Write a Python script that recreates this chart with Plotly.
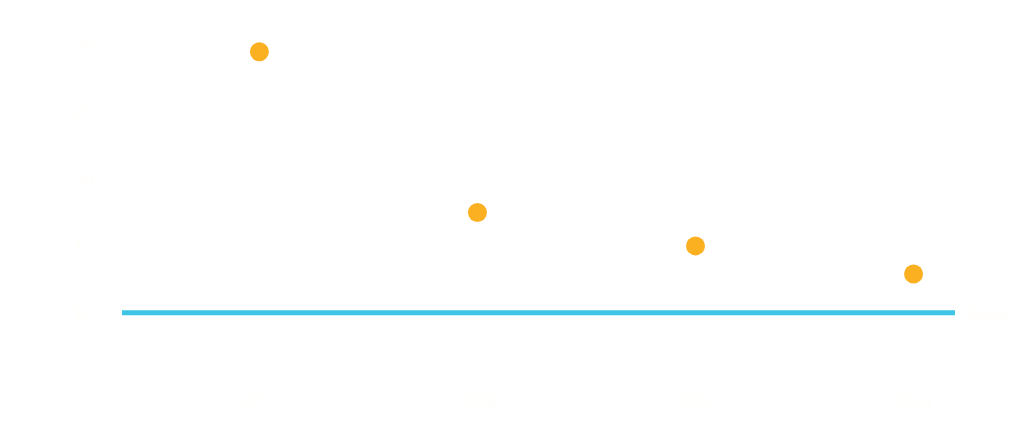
import plotly.graph_objs as go

# data
years = ["2017", "2020", "2022", "2024"]
values = [29.5, 17.5, 15.0, 12.9]
target = 10
y_ticks = [10, 15, 20, 25, 30]

txt = "#fffefa"

trace = go.Scatter(
    x=list(range(len(years))),
    y=values,
    mode="markers",
    marker=dict(color="#fbb022", size=19),
    showlegend=False,
)

layout = dict(
    width=1024,
    height=422,
    paper_bgcolor="white",
    plot_bgcolor="white",
    margin=dict(l=114, r=77, t=13, b=69),
    font=dict(family="Lato", size=16, color=txt),
    xaxis=dict(
        range=[-0.63, 3.19],
        tickvals=list(range(len(years))),
        ticktext=years,
        showgrid=False,
        zeroline=False,
        ticks="outside",
        ticklen=25,
        tickcolor=txt,
        tickfont=dict(color=txt),
    ),
    yaxis=dict(
        range=[6.4, 31.8],
        tickvals=y_ticks,
        showgrid=False,
        zeroline=False,
        ticks="outside",
        ticklen=25,
        tickcolor=txt,
        title=dict(text="CO₂ per capita", font=dict(color="white"), standoff=30),
    ),
    shapes=[dict(
        type="line", xref="paper", x0=0, x1=1, yref="y", y0=target, y1=target,
        line=dict(color="#3ec5e6", width=5), layer="below",
    )],
    annotations=[dict(
        xref="paper", x=1.01, xanchor="left", yref="y", y=target,
        text="Target", showarrow=False, font=dict(color=txt, size=16),
    )],
)

fig = go.Figure(data=[trace], layout=layout)
fig.write_html("out.html")
